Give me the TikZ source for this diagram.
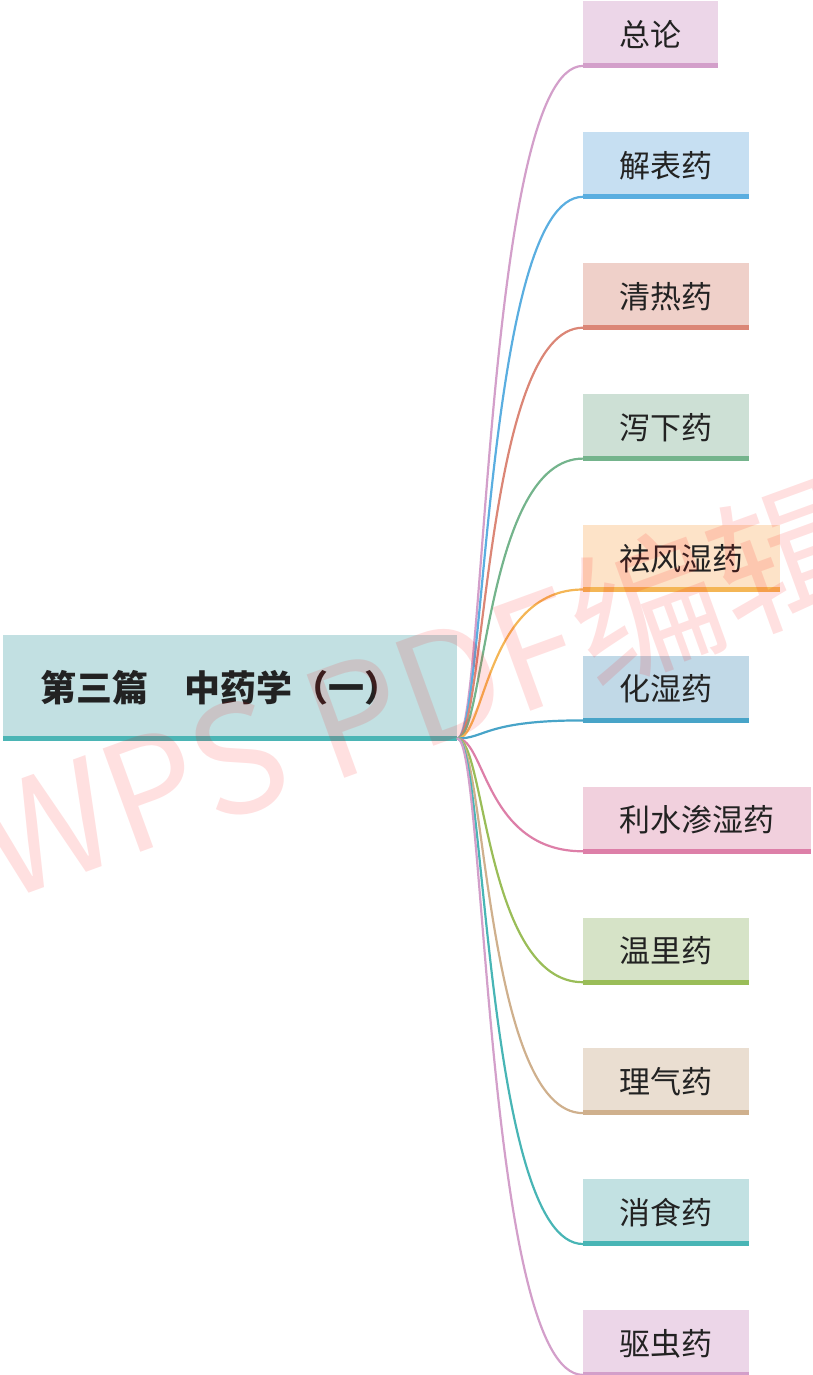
\documentclass[tikz,border=0pt]{standalone}
\usepackage{fontspec}
\setmainfont{Noto Sans CJK SC}
\usetikzlibrary{positioning}

\definecolor{textdark}{HTML}{222222}
\definecolor{rootfill}{HTML}{C2E0E2}
\definecolor{rootbar}{HTML}{4BB5B5}
\definecolor{zlfill}{HTML}{ECD6E8}
\definecolor{zlbar}{HTML}{D39FCA}
\definecolor{jbfill}{HTML}{C6DFF2}
\definecolor{jbbar}{HTML}{5AAEE0}
\definecolor{qrfill}{HTML}{EFD0C9}
\definecolor{qrbar}{HTML}{DB8676}
\definecolor{xxfill}{HTML}{CDE0D5}
\definecolor{xxbar}{HTML}{74B48C}
\definecolor{qffill}{HTML}{FDE3C8}
\definecolor{qfbar}{HTML}{F4B656}
\definecolor{hsfill}{HTML}{C1D9E7}
\definecolor{hsbar}{HTML}{48A4C8}
\definecolor{lsfill}{HTML}{F1D0DD}
\definecolor{lsbar}{HTML}{DD7FA8}
\definecolor{wlfill}{HTML}{D6E3C7}
\definecolor{wlbar}{HTML}{9ABD58}
\definecolor{lqfill}{HTML}{EADED1}
\definecolor{lqbar}{HTML}{CFB08D}
\definecolor{xsfill}{HTML}{C2E1E2}
\definecolor{xsbar}{HTML}{48B5B5}

\begin{document}
\begin{tikzpicture}[
    x=1pt, y=1pt,
    font=\fontsize{31}{36}\selectfont,
    branch/.style 2 args={
		rectangle,
		fill=#1,
		text=textdark,
		inner xsep=36.5pt,
		inner ysep=0pt,
		minimum height=67pt,
		path picture={\fill[#2] (path picture bounding box.south west) rectangle ([yshift=5pt]path picture bounding box.south east);}
	},
    rootbox/.style={
		rectangle,
		fill=rootfill,
		text=textdark,
		text width=380pt,
		align=left,
		inner xsep=37pt,
		inner ysep=0pt,
		minimum height=106pt,
		font=\fontsize{36}{40}\selectfont\bfseries,
		path picture={\fill[rootbar] (path picture bounding box.south west) rectangle ([yshift=5pt]path picture bounding box.south east);}
	},
    link/.style={
		line width=2.2pt,
		line cap=round
	}
  ]
  \useasboundingbox (0,0) rectangle (813,-1375);

  % the main topic
  \node [rootbox, anchor=south west] (root) at (3,-741) {第三篇　中药学（一）};

  % the sub topics, top to bottom
  \node [branch={zlfill}{zlbar}, anchor=north west] (zonglun) at (583,-1) {总论};
  \node [branch={jbfill}{jbbar}, below=63.5pt of zonglun.south west, anchor=north west] (jiebiao) {解表药};
  \node [branch={qrfill}{qrbar}, below=63.5pt of jiebiao.south west, anchor=north west] (qingre) {清热药};
  \node [branch={xxfill}{xxbar}, below=63.5pt of qingre.south west, anchor=north west] (xiexia) {泻下药};
  \node [branch={qffill}{qfbar}, below=63.5pt of xiexia.south west, anchor=north west] (qufeng) {祛风湿药};
  \node [branch={hsfill}{hsbar}, below=63.5pt of qufeng.south west, anchor=north west] (huashi) {化湿药};
  \node [branch={lsfill}{lsbar}, below=63.5pt of huashi.south west, anchor=north west] (lishui) {利水渗湿药};
  \node [branch={wlfill}{wlbar}, below=63.5pt of lishui.south west, anchor=north west] (wenli) {温里药};
  \node [branch={lqfill}{lqbar}, below=63.5pt of wenli.south west, anchor=north west] (liqi) {理气药};
  \node [branch={xsfill}{xsbar}, below=63.5pt of liqi.south west, anchor=north west] (xiaoshi) {消食药};
  \node [branch={zlfill}{zlbar}, below=63.5pt of xiaoshi.south west, anchor=north west] (quchong) {驱虫药};

  % curved links from the main topic
  \foreach \n/\c in {zonglun/zlbar, jiebiao/jbbar, qingre/qrbar, xiexia/xxbar, qufeng/qfbar,
                     huashi/hsbar, lishui/lsbar, wenli/wlbar, liqi/lqbar, xiaoshi/xsbar, quchong/zlbar}
    \draw [link, \c] ([yshift=2.5pt]root.south east) .. controls +(28,0) and +(-98,0) .. ([yshift=2.5pt]\n.south west);

  % watermark
  \node [rotate=20, text=red, text opacity=0.12, font=\fontsize{150}{150}\selectfont] (mark) at (420,-690) {WPS PDF编辑};
\end{tikzpicture}
\end{document}
